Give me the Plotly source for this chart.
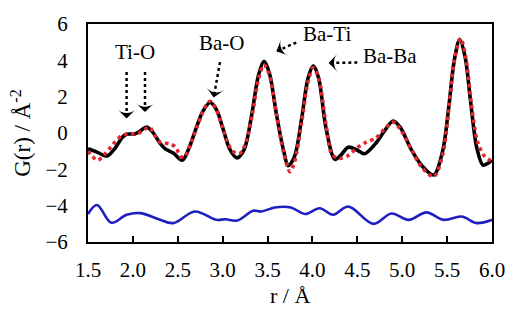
import math
import plotly.graph_objects as go

# Measured G(r) (solid black)
r_obs = [1.50, 1.60, 1.71, 1.80, 1.88, 1.93, 2.02, 2.08, 2.15, 2.22, 2.30, 2.36, 2.45, 2.55,
         2.62, 2.70, 2.78, 2.86, 2.93, 3.00, 3.08, 3.16, 3.24, 3.32, 3.40, 3.46, 3.52, 3.60,
         3.68, 3.73, 3.80, 3.88, 3.95, 4.01, 4.07, 4.15, 4.25, 4.32, 4.40, 4.50, 4.58, 4.70,
         4.80, 4.90, 4.98, 5.10, 5.22, 5.35, 5.45, 5.52, 5.58, 5.64, 5.70, 5.76, 5.83, 5.90,
         5.96, 6.00]
g_obs = [-0.87, -1.05, -1.27, -0.85, -0.25, -0.07, -0.05, 0.10, 0.33, 0.05, -0.55, -0.87, -1.10, -1.50,
         -0.90, 0.20, 1.20, 1.68, 1.30, 0.30, -0.90, -1.37, -0.90, 0.90, 3.20, 3.94, 3.30, 1.00,
         -1.00, -1.80, -1.30, 0.80, 3.00, 3.70, 3.00, 0.30, -1.45, -1.20, -0.78, -0.95, -1.14, -0.60,
         0.10, 0.66, 0.30, -0.90, -1.80, -2.31, -1.00, 1.50, 4.00, 5.14, 4.20, 1.80, -0.80, -1.77,
         -1.65, -1.50]

# Model G(r) (red dotted)
r_calc = [1.50, 1.55, 1.61, 1.68, 1.75, 1.80, 1.875, 1.95, 2.02, 2.08, 2.15, 2.19, 2.24, 2.30,
          2.41, 2.48, 2.53, 2.58, 2.65, 2.72, 2.80, 2.86, 2.92, 3.00, 3.07, 3.14, 3.20, 3.26,
          3.33, 3.40, 3.46, 3.52, 3.60, 3.68, 3.75, 3.80, 3.88, 3.95, 4.01, 4.07, 4.15, 4.22,
          4.30, 4.40, 4.50, 4.60, 4.70, 4.80, 4.90, 4.98, 5.10, 5.22, 5.35, 5.45, 5.52, 5.58,
          5.65, 5.71, 5.77, 5.84, 5.92, 6.00]
g_calc = [-1.00, -1.30, -1.50, -1.20, -0.80, -0.50, -0.15, -0.05, -0.05, 0.03, 0.25, 0.30, -0.10, -0.50,
          -0.60, -0.80, -1.30, -1.30, -0.50, 0.40, 1.40, 1.75, 1.40, 0.30, -0.70, -1.10, -1.10, -0.50,
          1.00, 3.00, 3.75, 3.20, 1.00, -1.10, -2.13, -1.60, 0.60, 2.80, 3.60, 3.00, 0.50, -1.20,
          -1.40, -1.23, -0.80, -0.50, -0.30, 0.20, 0.60, 0.20, -0.90, -1.90, -2.40, -1.20, 1.40, 4.00,
          5.20, 4.10, 1.60, -0.50, -1.30, -1.55]

# Difference curve, offset below the data (blue)
r_diff = [1.50, 1.60, 1.76, 1.93, 2.08, 2.28, 2.45, 2.69, 2.93, 3.03, 3.16, 3.34, 3.43, 3.58,
          3.76, 3.92, 4.08, 4.23, 4.40, 4.68, 4.88, 5.07, 5.27, 5.46, 5.66, 5.83, 6.00]
g_diff = [-4.46, -3.96, -4.94, -4.50, -4.41, -4.73, -4.96, -4.32, -4.78, -4.75, -4.82, -4.28, -4.32, -4.10,
          -4.10, -4.46, -4.14, -4.50, -4.05, -5.00, -4.43, -4.78, -4.37, -4.78, -4.60, -4.96, -4.78]

x_ticks = [1.5, 2.0, 2.5, 3.0, 3.5, 4.0, 4.5, 5.0, 5.5, 6.0]
y_ticks = [-6, -4, -2, 0, 2, 4, 6]

# Peak labels: (text, x, y)
peak_labels = [("Ti-O", 2.02, 4.44), ("Ba-O", 2.99, 4.98), ("Ba-Ti", 4.16, 5.45), ("Ba-Ba", 4.86, 4.22)]
# Dotted pointers: (x0, y0, x1, y1), arrowhead at (x1, y1)
pointers = [(1.93, 3.36, 1.93, 0.80), (2.135, 3.36, 2.135, 1.15), (2.97, 3.9, 2.90, 1.95),
            (3.82, 4.98, 3.60, 4.50), (4.50, 3.88, 4.18, 3.86)]

FONT = "Liberation Serif, Times New Roman, serif"
X_RANGE = [1.5, 6.0]
Y_RANGE = [-6, 6]
W, H = 525, 332
M = dict(l=88, r=33, t=19, b=90)

# pixel scale of the plotting area, used to orient arrowheads
sx = (W - M["l"] - M["r"]) / (X_RANGE[1] - X_RANGE[0])
sy = (H - M["t"] - M["b"]) / (Y_RANGE[1] - Y_RANGE[0])

fig = go.Figure()
fig.add_trace(go.Scatter(x=r_diff, y=g_diff, mode="lines", line=dict(color="#1f1fc0", width=2.6, shape="spline", smoothing=1.0)))
fig.add_trace(go.Scatter(x=r_obs, y=g_obs, mode="lines", line=dict(color="black", width=3.6, shape="spline", smoothing=0.9)))
fig.add_trace(go.Scatter(x=r_calc, y=g_calc, mode="lines", line=dict(color="#e0282e", width=3.6, dash="dot", shape="spline", smoothing=0.9)))

for text, x, y in peak_labels:
    fig.add_annotation(x=x, y=y, text=text, showarrow=False, font=dict(family=FONT, size=21, color="black"))

head_x, head_y, head_angle = [], [], []
for x0, y0, x1, y1 in pointers:
    fig.add_shape(type="line", x0=x0, y0=y0, x1=x1, y1=y1, line=dict(color="black", width=2.5, dash="dot"))
    dxp = (x1 - x0) * sx
    dyp = (y1 - y0) * sy
    head_x.append(x1)
    head_y.append(y1)
    head_angle.append(math.degrees(math.atan2(dxp, dyp)))

fig.add_trace(go.Scatter(x=head_x, y=head_y, mode="markers",
                         marker=dict(symbol="arrow-wide", size=13, angle=head_angle, color="black",
                                     line=dict(width=0)),
                         hoverinfo="skip"))

# x-axis title placed as an annotation for finer vertical control
fig.add_annotation(x=0.5, y=-0.245, xref="paper", yref="paper", text="r / Å", showarrow=False,
                   yanchor="middle", font=dict(family=FONT, size=22, color="black"))

fig.update_layout(
    width=W, height=H,
    margin=M,
    paper_bgcolor="white", plot_bgcolor="white",
    showlegend=False,
    font=dict(family=FONT, size=20, color="black"),
    xaxis=dict(range=X_RANGE, tickvals=x_ticks, ticktext=[f"{v:.1f}" for v in x_ticks],
               ticks="inside", ticklen=6, tickwidth=1.5, tickcolor="black",
               showline=True, linecolor="black", linewidth=2, mirror=True, showgrid=False, zeroline=False,
               tickfont=dict(family=FONT, size=21), ticklabelstandoff=8),
    yaxis=dict(range=Y_RANGE, tickvals=y_ticks, ticks="",
               showline=True, linecolor="black", linewidth=2, mirror=True, showgrid=False, zeroline=False,
               title=dict(text="G(r) / Å<sup>-2</sup>", font=dict(family=FONT, size=23), standoff=8),
               tickfont=dict(family=FONT, size=21), ticklabelstandoff=14),
)

fig.write_html("out.html")
